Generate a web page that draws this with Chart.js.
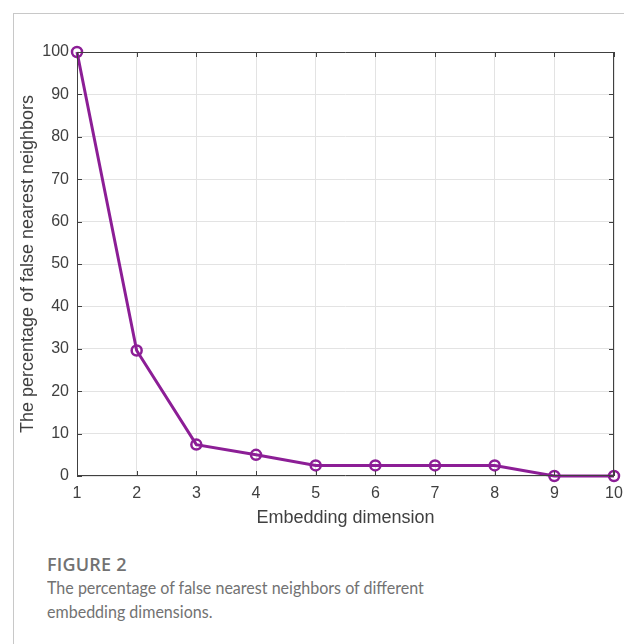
<!DOCTYPE html>
<html>
<head>
<meta charset="utf-8">
<script src="https://cdn.jsdelivr.net/npm/chart.js@4"></script>
<style>
  html, body { margin: 0; padding: 0; background: #fff; }
  body { width: 624px; height: 644px; position: relative; overflow: hidden; }
  #frame { position: absolute; left: 13px; top: 13px; width: 620px; height: 640px;
           border-top: 1px solid #c8c8c8; border-left: 1px solid #c8c8c8; }
  #c { position: absolute; left: 0; top: 0; }
  .cap { position: absolute; left: 47px; color: #727272; }
  #figno { top: 552px; font-family: "Open Sans", "Noto Sans", sans-serif; font-size: 18px; font-weight: 600; letter-spacing: 0.2px; }
  #captext { top: 576px; font-family: Lato, "Open Sans", sans-serif; font-size: 17.5px; font-weight: 400;
             line-height: 24px; width: 600px; white-space: nowrap;
             transform: scaleX(0.917); transform-origin: 0 0; }
</style>
</head>
<body>
<div id="frame"></div>
<canvas id="c" width="624" height="540"></canvas>
<div class="cap" id="figno">FIGURE 2</div>
<div class="cap" id="captext">The percentage of false nearest neighbors of different<br>embedding dimensions.</div>
<script>
const dimensions = [1, 2, 3, 4, 5, 6, 7, 8, 9, 10];
const fnnPercent = [100, 29.6, 7.4, 5.0, 2.5, 2.5, 2.5, 2.5, 0, 0];
const yTicks = [0, 10, 20, 30, 40, 50, 60, 70, 80, 90, 100];

const purple = '#8C1E96';
const axisColor = '#404040';

const boxTicks = {
  id: 'boxTicks',
  afterDatasetsDraw(chart) {
    const {ctx, chartArea: a, scales: {x, y}} = chart;
    ctx.save();
    ctx.strokeStyle = axisColor;
    ctx.lineWidth = 1;
    ctx.beginPath();
    ctx.rect(a.left + 0.5, a.top + 0.5, a.right - a.left - 1, a.bottom - a.top - 1);
    ctx.stroke();
    const len = 5;
    ctx.beginPath();
    dimensions.forEach(v => {
      const px = Math.round(x.getPixelForValue(v)) + 0.5;
      ctx.moveTo(px, a.bottom); ctx.lineTo(px, a.bottom - len);
      ctx.moveTo(px, a.top); ctx.lineTo(px, a.top + len);
    });
    yTicks.forEach(v => {
      const py = Math.round(y.getPixelForValue(v)) + 0.5;
      ctx.moveTo(a.left, py); ctx.lineTo(a.left + len, py);
      ctx.moveTo(a.right, py); ctx.lineTo(a.right - len, py);
    });
    ctx.stroke();
    ctx.restore();
  }
};

const fam = 'Arial, "Liberation Sans", Helvetica, sans-serif';
const tickFont = { family: fam, size: 16 };
const titleFont = { family: fam, size: 18 };

new Chart(document.getElementById('c'), {
  type: 'line',
  data: {
    datasets: [{
      data: dimensions.map((d, i) => ({ x: d, y: fnnPercent[i] })),
      borderColor: purple,
      borderWidth: 3,
      pointRadius: 5,
      pointBorderWidth: 2.5,
      pointBackgroundColor: 'rgba(255,255,255,0)',
      pointBorderColor: purple,
      tension: 0,
      clip: false
    }]
  },
  options: {
    responsive: false,
    animation: false,
    devicePixelRatio: 1,
    layout: { padding: { left: 0, top: 52, right: 10, bottom: 0 } },
    plugins: { legend: { display: false }, tooltip: { enabled: false } },
    scales: {
      x: {
        type: 'linear',
        min: 1, max: 10,
        afterBuildTicks: s => { s.ticks = dimensions.map(v => ({ value: v })); },
        afterFit: s => { s.height = 64; s.paddingLeft = 0; s.paddingRight = 0; },
        grid: { color: '#e3e3e3', drawTicks: false },
        border: { display: false },
        ticks: { color: axisColor, font: tickFont, padding: 8, maxRotation: 0 },
        title: { display: true, text: 'Embedding dimension', color: axisColor,
                 font: titleFont, padding: { top: 0, bottom: 11 } }
      },
      y: {
        min: 0, max: 100,
        afterBuildTicks: s => { s.ticks = yTicks.map(v => ({ value: v })); },
        afterFit: s => { s.width = 77; s.paddingTop = 0; s.paddingBottom = 0; },
        grid: { color: '#e3e3e3', drawTicks: false },
        border: { display: false },
        ticks: { color: axisColor, font: tickFont, padding: 8 },
        title: { display: true, text: 'The percentage of false nearest neighbors', color: axisColor,
                 font: titleFont, padding: { top: 17, bottom: 0 } }
      }
    }
  },
  plugins: [boxTicks]
});
</script>
</body>
</html>
